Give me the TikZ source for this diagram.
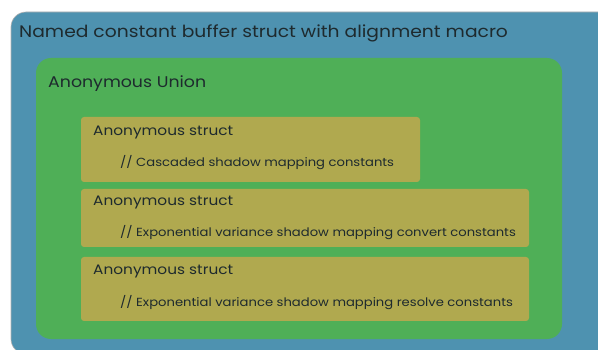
\documentclass[tikz,border=0pt]{standalone}
\usepackage{fontspec}
\setmainfont[FakeStretch=1.12]{Poppins}
\definecolor{outerblue}{HTML}{4E92B0}
\definecolor{uniongreen}{HTML}{4FAF57}
\definecolor{structolive}{HTML}{B0A94F}
\definecolor{txt}{HTML}{1E2A2E}
\tikzset{
  outerbox/.style={fill=outerblue, draw=gray!60, line width=0.6pt, rounded corners=15pt},
  unionbox/.style={fill=uniongreen, rounded corners=15pt},
  structbox/.style={fill=structolive, rounded corners=3pt},
  lbl/.style={anchor=west, inner sep=0pt, text=txt},
  cmt/.style={lbl, font=\fontsize{11.75}{13}\selectfont},
  stt/.style={lbl, font=\fontsize{13.7}{15}\selectfont},
}
\begin{document}
\begin{tikzpicture}[x=1pt,y=-1pt]
\useasboundingbox (0,0) rectangle (598,350);
\begin{scope}
\clip (0,0) rectangle (598,350);
\path[outerbox] (11,12) rectangle (620,354);
\end{scope}
\path[unionbox] (36,58) rectangle (562,339);
\path[structbox] (81,117) rectangle (420,182);
\path[structbox] (81,189) rectangle (529,247);
\path[structbox] (81,257) rectangle (529,321);
\node[lbl, font=\fontsize{16.7}{18}\selectfont] (t0) at (19,33) {Named constant buffer struct with alignment macro};
\node[lbl, font=\fontsize{15.5}{17}\selectfont] (t1) at (48,84) {Anonymous Union};
\node[stt] (s1) at (93,133) {Anonymous struct};
\node[cmt] (c1) at (120,163) {// Cascaded shadow mapping constants};
\node[stt] (s2) at (93,203) {Anonymous struct};
\node[cmt] (c2) at (120,233) {// Exponential variance shadow mapping convert constants};
\node[stt] (s3) at (93,272) {Anonymous struct};
\node[cmt] (c3) at (120,303) {// Exponential variance shadow mapping resolve constants};
\end{tikzpicture}
\end{document}
